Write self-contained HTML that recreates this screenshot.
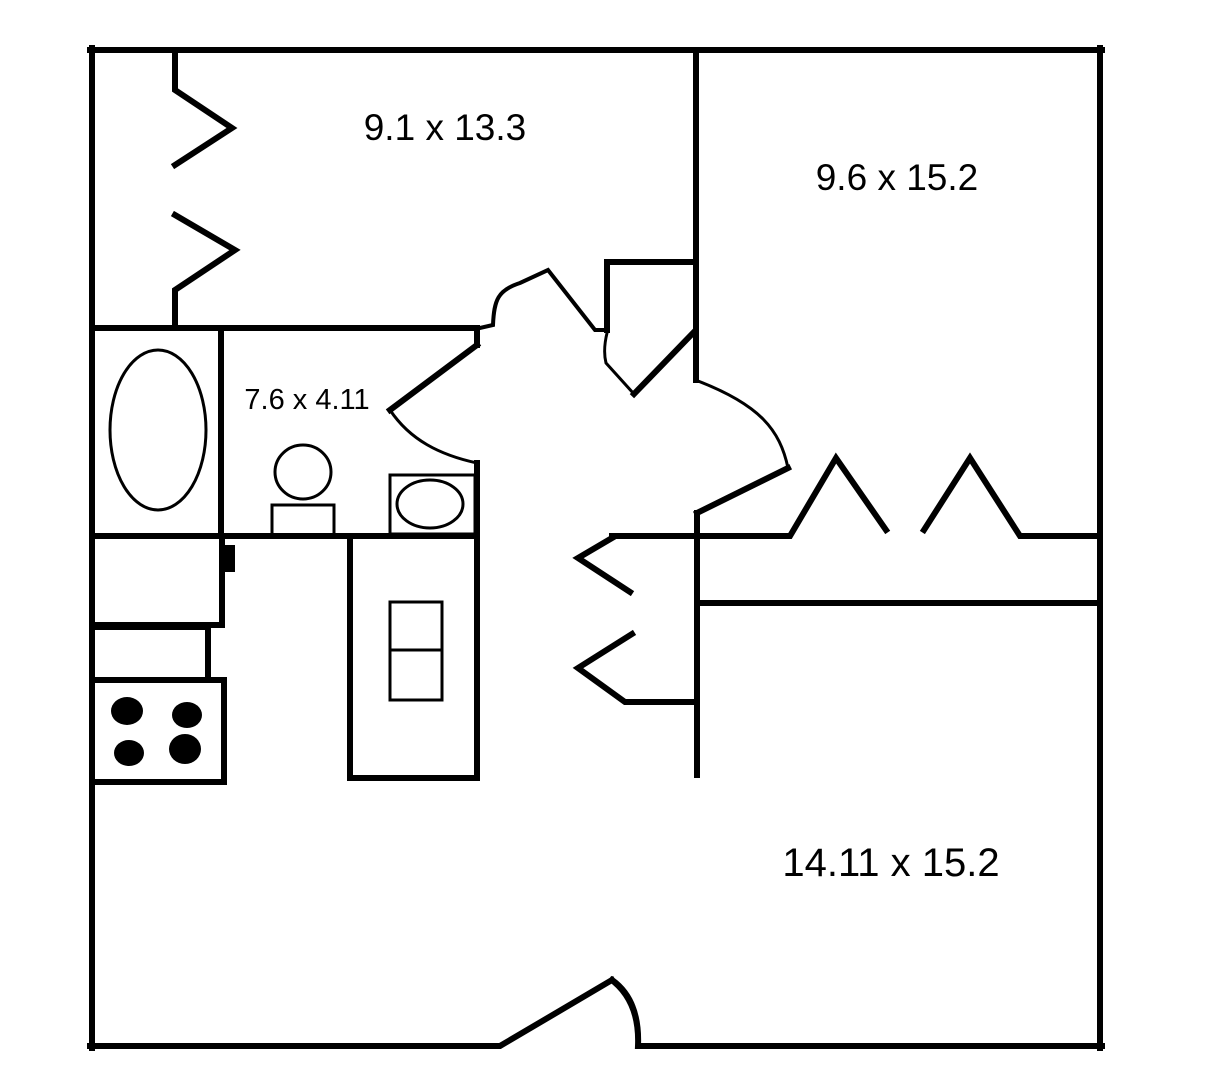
<!DOCTYPE html>
<html><head><meta charset="utf-8"><style>
html,body{margin:0;padding:0;background:#fff;}
svg{display:block;}
text{font-family:"Liberation Sans",sans-serif;fill:#000;}
</style></head><body>
<svg width="1214" height="1080" viewBox="0 0 1214 1080" xmlns="http://www.w3.org/2000/svg">
<g fill="none" stroke="#000" stroke-width="6" stroke-linejoin="miter" stroke-linecap="square">
<line x1="90" y1="50" x2="1102" y2="50"/>
<line x1="92" y1="48" x2="92" y2="1048"/>
<line x1="1100" y1="48" x2="1100" y2="1048"/>
<polyline points="90,1046 500,1046 612,980"/>
<path d="M612,980 Q640,1000 638,1046 L1102,1046"/>
<polyline points="175,50 175,90 232,128 175,165"/>
<polyline points="175,215 235,250 175,290 175,327"/>
<line x1="92" y1="328" x2="477" y2="328"/>
<path d="M480,328 L493,325 C494,300 498,290 520,283 L548,270 L595,330 L606,330" stroke-width="4"/>
<line x1="696" y1="50" x2="696" y2="380"/>
<line x1="697" y1="513" x2="697" y2="775"/>
<polyline points="696,262 607,262 607,330"/>
<path d="M607,333 C604,345 604,355 606,363 L634,394" stroke-width="3"/>
<line x1="634" y1="394" x2="694" y2="332"/>
<path d="M698,381 C760,405 780,430 788,468" stroke-width="3"/>
<line x1="788" y1="468" x2="697" y2="513"/>
<polyline points="697,536 790,536 836,458 886,530"/>
<polyline points="924,530 970,458 1020,536 1100,536"/>
<line x1="700" y1="603" x2="1100" y2="603"/>
<line x1="477" y1="330" x2="477" y2="345"/>
<line x1="477" y1="345" x2="390" y2="410"/>
<path d="M390,410 C410,440 440,455 477,463" stroke-width="3"/>
<line x1="477" y1="463" x2="477" y2="778"/>
<line x1="221" y1="330" x2="221" y2="535"/>
<line x1="92" y1="536" x2="477" y2="536"/>
<ellipse cx="158" cy="430" rx="48" ry="80" stroke-width="3"/>
<ellipse cx="303" cy="472" rx="28" ry="27" stroke-width="3"/>
<rect x="272" y="505" width="62" height="30" stroke-width="3"/>
<rect x="390" y="475" width="85" height="59" stroke-width="3"/>
<ellipse cx="430" cy="504" rx="33" ry="24" stroke-width="3"/>
<polyline points="222,536 222,625 92,625"/>
<polyline points="92,627 208,627 208,680"/>
<rect x="92" y="680" width="132" height="102"/>
<polyline points="350,536 350,778 477,778"/>
<rect x="390" y="602" width="52" height="98" stroke-width="3"/>
<line x1="390" y1="650" x2="442" y2="650" stroke-width="3"/>
<polyline points="612,536 697,536"/>
<polyline points="612,538 578,558 630,592"/>
<polyline points="632,634 578,668 625,702 697,702"/>
</g>
<rect x="224" y="545" width="11" height="27" fill="#000"/>
<g fill="#000">
<ellipse cx="127" cy="711" rx="16" ry="14"/>
<ellipse cx="187" cy="715" rx="15" ry="13"/>
<ellipse cx="129" cy="753" rx="15" ry="13"/>
<ellipse cx="185" cy="749" rx="16" ry="15"/>
</g>
<text x="445" y="140" font-size="37" text-anchor="middle">9.1 x 13.3</text>
<text x="897" y="190" font-size="37" text-anchor="middle">9.6 x 15.2</text>
<text x="307" y="409" font-size="29" text-anchor="middle">7.6 x 4.11</text>
<text x="891" y="876" font-size="40" text-anchor="middle">14.11 x 15.2</text>
</svg>
</body></html>
